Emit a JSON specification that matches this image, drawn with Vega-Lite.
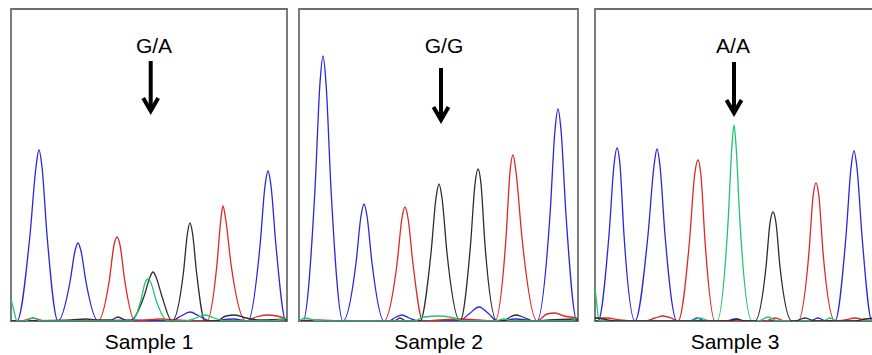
{
  "$schema": "https://vega.github.io/schema/vega-lite/v6.json",
  "padding": {"left": 10, "top": 8, "right": 0, "bottom": 0},
  "background": "#ffffff",
  "config": {"view": {"stroke": "#6e6e6e", "strokeWidth": 1.8}},
  "datasets": {
    "tr": [
      {"p":1,"c":"b","x":0,"y":0},{"p":1,"c":"b","x":6,"y":0},{"p":1,"c":"b","x":19,"y":86},{"p":1,"c":"b","x":25,"y":154},{"p":1,"c":"b","x":28,"y":171},{"p":1,"c":"b","x":31,"y":154},{"p":1,"c":"b","x":36,"y":86},{"p":1,"c":"b","x":47,"y":0},{"p":1,"c":"b","x":59,"y":39},{"p":1,"c":"b","x":64,"y":70},{"p":1,"c":"b","x":67,"y":78},{"p":1,"c":"b","x":70,"y":70},{"p":1,"c":"b","x":75,"y":39},{"p":1,"c":"b","x":87,"y":0},{"p":1,"c":"b","x":120,"y":1},{"p":1,"c":"b","x":160,"y":0},{"p":1,"c":"b","x":170,"y":5},{"p":1,"c":"b","x":179,"y":9},{"p":1,"c":"b","x":188,"y":5},{"p":1,"c":"b","x":200,"y":0},{"p":1,"c":"b","x":222,"y":2},{"p":1,"c":"b","x":237,"y":0},{"p":1,"c":"b","x":249,"y":75},{"p":1,"c":"b","x":254,"y":135},{"p":1,"c":"b","x":257,"y":150},{"p":1,"c":"b","x":260,"y":135},{"p":1,"c":"b","x":265,"y":75},{"p":1,"c":"b","x":275,"y":0},{"p":1,"c":"b","x":276,"y":0},

      {"p":1,"c":"r","x":0,"y":0},{"p":1,"c":"r","x":10,"y":0},{"p":1,"c":"r","x":22,"y":3},{"p":1,"c":"r","x":34,"y":0},{"p":1,"c":"r","x":87,"y":0},{"p":1,"c":"r","x":98.5,"y":42},{"p":1,"c":"r","x":103,"y":76},{"p":1,"c":"r","x":106,"y":84},{"p":1,"c":"r","x":109,"y":76},{"p":1,"c":"r","x":113.5,"y":42},{"p":1,"c":"r","x":124,"y":0},{"p":1,"c":"r","x":135,"y":1},{"p":1,"c":"r","x":150,"y":2},{"p":1,"c":"r","x":165,"y":1},{"p":1,"c":"r","x":196,"y":0},{"p":1,"c":"r","x":206,"y":57},{"p":1,"c":"r","x":210,"y":103},{"p":1,"c":"r","x":212,"y":115},{"p":1,"c":"r","x":214.5,"y":103},{"p":1,"c":"r","x":220,"y":57},{"p":1,"c":"r","x":235,"y":0},{"p":1,"c":"r","x":245,"y":4},{"p":1,"c":"r","x":256,"y":6},{"p":1,"c":"r","x":266,"y":5},{"p":1,"c":"r","x":276,"y":2},

      {"p":1,"c":"k","x":0,"y":0},{"p":1,"c":"k","x":60,"y":1},{"p":1,"c":"k","x":75,"y":2},{"p":1,"c":"k","x":85,"y":1},{"p":1,"c":"k","x":100,"y":1},{"p":1,"c":"k","x":107,"y":4},{"p":1,"c":"k","x":114,"y":1},{"p":1,"c":"k","x":119,"y":0},{"p":1,"c":"k","x":133,"y":24.5},{"p":1,"c":"k","x":139,"y":44},{"p":1,"c":"k","x":142,"y":49},{"p":1,"c":"k","x":145,"y":44},{"p":1,"c":"k","x":151,"y":24.5},{"p":1,"c":"k","x":161,"y":0},{"p":1,"c":"k","x":172.5,"y":49},{"p":1,"c":"k","x":176.5,"y":88},{"p":1,"c":"k","x":179,"y":98},{"p":1,"c":"k","x":181.5,"y":88},{"p":1,"c":"k","x":185.5,"y":49},{"p":1,"c":"k","x":194,"y":0},{"p":1,"c":"k","x":205,"y":0},{"p":1,"c":"k","x":215,"y":5},{"p":1,"c":"k","x":224,"y":6},{"p":1,"c":"k","x":235,"y":3},{"p":1,"c":"k","x":250,"y":1},{"p":1,"c":"k","x":276,"y":2},

      {"p":1,"c":"g","x":0,"y":22},{"p":1,"c":"g","x":3,"y":10},{"p":1,"c":"g","x":6,"y":0},{"p":1,"c":"g","x":14,"y":0},{"p":1,"c":"g","x":22,"y":3},{"p":1,"c":"g","x":30,"y":0},{"p":1,"c":"g","x":121,"y":0},{"p":1,"c":"g","x":130,"y":21},{"p":1,"c":"g","x":134,"y":38},{"p":1,"c":"g","x":137,"y":42},{"p":1,"c":"g","x":140,"y":38},{"p":1,"c":"g","x":145,"y":21},{"p":1,"c":"g","x":157,"y":0},{"p":1,"c":"g","x":175,"y":0},{"p":1,"c":"g","x":185,"y":3},{"p":1,"c":"g","x":194,"y":6},{"p":1,"c":"g","x":203,"y":3},{"p":1,"c":"g","x":215,"y":0},{"p":1,"c":"g","x":260,"y":0},{"p":1,"c":"g","x":276,"y":3},

      {"p":2,"c":"b","x":0,"y":0},{"p":2,"c":"b","x":4,"y":0},{"p":2,"c":"b","x":16,"y":132},{"p":2,"c":"b","x":21,"y":238},{"p":2,"c":"b","x":24,"y":265},{"p":2,"c":"b","x":27,"y":238},{"p":2,"c":"b","x":32,"y":132},{"p":2,"c":"b","x":44,"y":0},{"p":2,"c":"b","x":57,"y":58},{"p":2,"c":"b","x":62,"y":105},{"p":2,"c":"b","x":65,"y":117},{"p":2,"c":"b","x":68,"y":105},{"p":2,"c":"b","x":73,"y":58},{"p":2,"c":"b","x":85,"y":0},{"p":2,"c":"b","x":90,"y":0},{"p":2,"c":"b","x":97,"y":4},{"p":2,"c":"b","x":103,"y":6},{"p":2,"c":"b","x":110,"y":3},{"p":2,"c":"b","x":120,"y":0},{"p":2,"c":"b","x":160,"y":0},{"p":2,"c":"b","x":170,"y":7},{"p":2,"c":"b","x":180,"y":14},{"p":2,"c":"b","x":190,"y":7},{"p":2,"c":"b","x":198,"y":0},{"p":2,"c":"b","x":216,"y":2},{"p":2,"c":"b","x":238,"y":0},{"p":2,"c":"b","x":251,"y":106},{"p":2,"c":"b","x":256,"y":191},{"p":2,"c":"b","x":259,"y":212},{"p":2,"c":"b","x":262,"y":191},{"p":2,"c":"b","x":267,"y":106},{"p":2,"c":"b","x":278,"y":0},{"p":2,"c":"b","x":279,"y":0},

      {"p":2,"c":"r","x":0,"y":0},{"p":2,"c":"r","x":20,"y":1},{"p":2,"c":"r","x":40,"y":0},{"p":2,"c":"r","x":85,"y":0},{"p":2,"c":"r","x":98,"y":57},{"p":2,"c":"r","x":103,"y":103},{"p":2,"c":"r","x":106,"y":114},{"p":2,"c":"r","x":109,"y":103},{"p":2,"c":"r","x":114,"y":57},{"p":2,"c":"r","x":124,"y":0},{"p":2,"c":"r","x":140,"y":1},{"p":2,"c":"r","x":160,"y":2},{"p":2,"c":"r","x":180,"y":1},{"p":2,"c":"r","x":196,"y":0},{"p":2,"c":"r","x":207,"y":83},{"p":2,"c":"r","x":211,"y":149},{"p":2,"c":"r","x":214,"y":166},{"p":2,"c":"r","x":217,"y":149},{"p":2,"c":"r","x":223,"y":83},{"p":2,"c":"r","x":238,"y":0},{"p":2,"c":"r","x":248,"y":7},{"p":2,"c":"r","x":256,"y":8},{"p":2,"c":"r","x":265,"y":5},{"p":2,"c":"r","x":279,"y":3},

      {"p":2,"c":"k","x":0,"y":0},{"p":2,"c":"k","x":95,"y":0},{"p":2,"c":"k","x":101,"y":3},{"p":2,"c":"k","x":107,"y":0},{"p":2,"c":"k","x":121,"y":0},{"p":2,"c":"k","x":132,"y":68},{"p":2,"c":"k","x":137,"y":123},{"p":2,"c":"k","x":140,"y":137},{"p":2,"c":"k","x":143,"y":123},{"p":2,"c":"k","x":148,"y":68},{"p":2,"c":"k","x":161,"y":0},{"p":2,"c":"k","x":171.5,"y":76},{"p":2,"c":"k","x":176,"y":137},{"p":2,"c":"k","x":179,"y":152},{"p":2,"c":"k","x":182,"y":137},{"p":2,"c":"k","x":186,"y":76},{"p":2,"c":"k","x":198,"y":0},{"p":2,"c":"k","x":205,"y":0},{"p":2,"c":"k","x":211,"y":4},{"p":2,"c":"k","x":217,"y":6},{"p":2,"c":"k","x":224,"y":4},{"p":2,"c":"k","x":235,"y":0},{"p":2,"c":"k","x":250,"y":1},{"p":2,"c":"k","x":279,"y":2},

      {"p":2,"c":"g","x":0,"y":0},{"p":2,"c":"g","x":6,"y":3},{"p":2,"c":"g","x":15,"y":1},{"p":2,"c":"g","x":25,"y":0},{"p":2,"c":"g","x":115,"y":0},{"p":2,"c":"g","x":125,"y":4},{"p":2,"c":"g","x":141,"y":5},{"p":2,"c":"g","x":155,"y":3},{"p":2,"c":"g","x":165,"y":0},{"p":2,"c":"g","x":195,"y":0},{"p":2,"c":"g","x":205,"y":2},{"p":2,"c":"g","x":215,"y":0},{"p":2,"c":"g","x":270,"y":0},{"p":2,"c":"g","x":279,"y":4},

      {"p":3,"c":"b","x":0,"y":0},{"p":3,"c":"b","x":3,"y":0},{"p":3,"c":"b","x":14,"y":86},{"p":3,"c":"b","x":19,"y":156},{"p":3,"c":"b","x":22,"y":173},{"p":3,"c":"b","x":25,"y":156},{"p":3,"c":"b","x":29,"y":86},{"p":3,"c":"b","x":40,"y":0},{"p":3,"c":"b","x":53,"y":86},{"p":3,"c":"b","x":59,"y":155},{"p":3,"c":"b","x":62,"y":172},{"p":3,"c":"b","x":65,"y":155},{"p":3,"c":"b","x":70,"y":86},{"p":3,"c":"b","x":82,"y":0},{"p":3,"c":"b","x":95,"y":0},{"p":3,"c":"b","x":102,"y":3},{"p":3,"c":"b","x":110,"y":0},{"p":3,"c":"b","x":130,"y":0},{"p":3,"c":"b","x":140,"y":2},{"p":3,"c":"b","x":150,"y":0},{"p":3,"c":"b","x":215,"y":0},{"p":3,"c":"b","x":223,"y":3},{"p":3,"c":"b","x":231,"y":0},{"p":3,"c":"b","x":240,"y":0},{"p":3,"c":"b","x":251,"y":85},{"p":3,"c":"b","x":256,"y":153},{"p":3,"c":"b","x":259,"y":170},{"p":3,"c":"b","x":262,"y":153},{"p":3,"c":"b","x":267,"y":85},{"p":3,"c":"b","x":277,"y":0},{"p":3,"c":"b","x":280,"y":0},

      {"p":3,"c":"r","x":0,"y":3},{"p":3,"c":"r","x":12,"y":3},{"p":3,"c":"r","x":25,"y":1},{"p":3,"c":"r","x":40,"y":0},{"p":3,"c":"r","x":50,"y":0},{"p":3,"c":"r","x":60,"y":3},{"p":3,"c":"r","x":68,"y":5},{"p":3,"c":"r","x":76,"y":3},{"p":3,"c":"r","x":83,"y":0},{"p":3,"c":"r","x":94.5,"y":80},{"p":3,"c":"r","x":99.5,"y":145},{"p":3,"c":"r","x":103,"y":161},{"p":3,"c":"r","x":106,"y":145},{"p":3,"c":"r","x":110,"y":80},{"p":3,"c":"r","x":120,"y":0},{"p":3,"c":"r","x":170,"y":0},{"p":3,"c":"r","x":180,"y":3},{"p":3,"c":"r","x":190,"y":0},{"p":3,"c":"r","x":203,"y":0},{"p":3,"c":"r","x":214,"y":69},{"p":3,"c":"r","x":218,"y":124},{"p":3,"c":"r","x":221,"y":138},{"p":3,"c":"r","x":224,"y":124},{"p":3,"c":"r","x":228,"y":69},{"p":3,"c":"r","x":240,"y":0},{"p":3,"c":"r","x":250,"y":1},{"p":3,"c":"r","x":260,"y":3},{"p":3,"c":"r","x":270,"y":1},{"p":3,"c":"r","x":280,"y":0},

      {"p":3,"c":"g","x":0,"y":34},{"p":3,"c":"g","x":2,"y":15},{"p":3,"c":"g","x":4,"y":0},{"p":3,"c":"g","x":95,"y":0},{"p":3,"c":"g","x":105,"y":3},{"p":3,"c":"g","x":115,"y":0},{"p":3,"c":"g","x":122,"y":0},{"p":3,"c":"g","x":133,"y":98},{"p":3,"c":"g","x":137,"y":176},{"p":3,"c":"g","x":139,"y":196},{"p":3,"c":"g","x":141,"y":176},{"p":3,"c":"g","x":145,"y":98},{"p":3,"c":"g","x":157,"y":0},{"p":3,"c":"g","x":163,"y":0},{"p":3,"c":"g","x":173,"y":4},{"p":3,"c":"g","x":183,"y":0},{"p":3,"c":"g","x":228,"y":0},{"p":3,"c":"g","x":235,"y":3},{"p":3,"c":"g","x":242,"y":0},{"p":3,"c":"g","x":270,"y":0},{"p":3,"c":"g","x":280,"y":2},

      {"p":3,"c":"k","x":0,"y":3},{"p":3,"c":"k","x":8,"y":2},{"p":3,"c":"k","x":20,"y":0},{"p":3,"c":"k","x":135,"y":0},{"p":3,"c":"k","x":142,"y":2},{"p":3,"c":"k","x":150,"y":0},{"p":3,"c":"k","x":160,"y":0},{"p":3,"c":"k","x":171,"y":54},{"p":3,"c":"k","x":175,"y":98},{"p":3,"c":"k","x":178,"y":109},{"p":3,"c":"k","x":181,"y":98},{"p":3,"c":"k","x":185,"y":54},{"p":3,"c":"k","x":197,"y":0},{"p":3,"c":"k","x":200,"y":0},{"p":3,"c":"k","x":210,"y":3},{"p":3,"c":"k","x":220,"y":0},{"p":3,"c":"k","x":260,"y":0},{"p":3,"c":"k","x":270,"y":2},{"p":3,"c":"k","x":280,"y":3}
    ],
    "lab": [
      {"p":1,"t":"G/A","x":143,"y":268.5},
      {"p":2,"t":"G/G","x":145,"y":268.5},
      {"p":3,"t":"A/A","x":138,"y":268.5}
    ],
    "shaft": [
      {"p":1,"x":139.7,"y":260,"y2":212},
      {"p":2,"x":142,"y":253,"y2":203},
      {"p":3,"x":139,"y":259,"y2":210}
    ],
    "head": [
      {"p":1,"o":1,"x":132.2,"y":223},{"p":1,"o":2,"x":139.7,"y":210},{"p":1,"o":3,"x":147.2,"y":223},
      {"p":2,"o":1,"x":134.5,"y":214},{"p":2,"o":2,"x":142,"y":201},{"p":2,"o":3,"x":149.5,"y":214},
      {"p":3,"o":1,"x":131.5,"y":221},{"p":3,"o":2,"x":139,"y":208},{"p":3,"o":3,"x":146.5,"y":221}
    ]
  },
  "spacing": 15,
  "hconcat": [
    {
      "spacing": 10,
      "hconcat": [
        {
          "width": 276, "height": 312,
          "title": {"text": "Sample 1", "orient": "bottom", "offset": 11, "fontSize": 21, "font": "Liberation Sans", "fontWeight": "normal", "color": "#000000", "anchor": "middle", "baseline": "top"},
          "layer": [
            {"data": {"name": "tr"}, "transform": [{"filter": "datum.p == 1"}],
             "mark": {"type": "line", "interpolate": "monotone", "strokeWidth": 1.3, "strokeJoin": "round", "clip": true},
             "encoding": {
               "x": {"field": "x", "type": "quantitative", "scale": {"domain": [0, 276], "nice": false}, "axis": null},
               "y": {"field": "y", "type": "quantitative", "scale": {"domain": [0, 312], "nice": false}, "axis": null},
               "color": {"field": "c", "type": "nominal", "scale": {"domain": ["k", "r", "g", "b"], "range": ["#2e2e2e", "#e02626", "#22c46e", "#2828dc"]}, "legend": null}}},
            {"data": {"name": "lab"}, "transform": [{"filter": "datum.p == 1"}],
             "mark": {"type": "text", "fontSize": 21, "font": "Liberation Sans", "baseline": "alphabetic", "align": "center", "color": "#000000"},
             "encoding": {
               "x": {"field": "x", "type": "quantitative", "scale": {"domain": [0, 276], "nice": false}, "axis": null},
               "y": {"field": "y", "type": "quantitative", "scale": {"domain": [0, 312], "nice": false}, "axis": null},
               "text": {"field": "t"}}},
            {"data": {"name": "shaft"}, "transform": [{"filter": "datum.p == 1"}],
             "mark": {"type": "rule", "strokeWidth": 4, "color": "#000000"},
             "encoding": {
               "x": {"field": "x", "type": "quantitative", "scale": {"domain": [0, 276], "nice": false}, "axis": null},
               "y": {"field": "y", "type": "quantitative", "scale": {"domain": [0, 312], "nice": false}, "axis": null},
               "y2": {"field": "y2"}}},
            {"data": {"name": "head"}, "transform": [{"filter": "datum.p == 1"}],
             "mark": {"type": "line", "strokeWidth": 4, "color": "#000000", "strokeJoin": "miter", "strokeCap": "butt"},
             "encoding": {
               "x": {"field": "x", "type": "quantitative", "scale": {"domain": [0, 276], "nice": false}, "axis": null},
               "y": {"field": "y", "type": "quantitative", "scale": {"domain": [0, 312], "nice": false}, "axis": null},
               "order": {"field": "o"}}}
          ]
        },
        {
          "width": 279, "height": 312,
          "title": {"text": "Sample 2", "orient": "bottom", "offset": 11, "fontSize": 21, "font": "Liberation Sans", "fontWeight": "normal", "color": "#000000", "anchor": "middle", "baseline": "top"},
          "layer": [
            {"data": {"name": "tr"}, "transform": [{"filter": "datum.p == 2"}],
             "mark": {"type": "line", "interpolate": "monotone", "strokeWidth": 1.3, "strokeJoin": "round", "clip": true},
             "encoding": {
               "x": {"field": "x", "type": "quantitative", "scale": {"domain": [0, 279], "nice": false}, "axis": null},
               "y": {"field": "y", "type": "quantitative", "scale": {"domain": [0, 312], "nice": false}, "axis": null},
               "color": {"field": "c", "type": "nominal", "scale": {"domain": ["k", "r", "g", "b"], "range": ["#2e2e2e", "#e02626", "#22c46e", "#2828dc"]}, "legend": null}}},
            {"data": {"name": "lab"}, "transform": [{"filter": "datum.p == 2"}],
             "mark": {"type": "text", "fontSize": 21, "font": "Liberation Sans", "baseline": "alphabetic", "align": "center", "color": "#000000"},
             "encoding": {
               "x": {"field": "x", "type": "quantitative", "scale": {"domain": [0, 279], "nice": false}, "axis": null},
               "y": {"field": "y", "type": "quantitative", "scale": {"domain": [0, 312], "nice": false}, "axis": null},
               "text": {"field": "t"}}},
            {"data": {"name": "shaft"}, "transform": [{"filter": "datum.p == 2"}],
             "mark": {"type": "rule", "strokeWidth": 4, "color": "#000000"},
             "encoding": {
               "x": {"field": "x", "type": "quantitative", "scale": {"domain": [0, 279], "nice": false}, "axis": null},
               "y": {"field": "y", "type": "quantitative", "scale": {"domain": [0, 312], "nice": false}, "axis": null},
               "y2": {"field": "y2"}}},
            {"data": {"name": "head"}, "transform": [{"filter": "datum.p == 2"}],
             "mark": {"type": "line", "strokeWidth": 4, "color": "#000000", "strokeJoin": "miter", "strokeCap": "butt"},
             "encoding": {
               "x": {"field": "x", "type": "quantitative", "scale": {"domain": [0, 279], "nice": false}, "axis": null},
               "y": {"field": "y", "type": "quantitative", "scale": {"domain": [0, 312], "nice": false}, "axis": null},
               "order": {"field": "o"}}}
          ]
        }
      ]
    },
    {
      "width": 280, "height": 312,
      "title": {"text": "Sample 3", "orient": "bottom", "offset": 11, "fontSize": 21, "font": "Liberation Sans", "fontWeight": "normal", "color": "#000000", "anchor": "middle", "baseline": "top"},
      "layer": [
        {"data": {"name": "tr"}, "transform": [{"filter": "datum.p == 3"}],
         "mark": {"type": "line", "interpolate": "monotone", "strokeWidth": 1.3, "strokeJoin": "round", "clip": true},
         "encoding": {
           "x": {"field": "x", "type": "quantitative", "scale": {"domain": [0, 280], "nice": false}, "axis": null},
           "y": {"field": "y", "type": "quantitative", "scale": {"domain": [0, 312], "nice": false}, "axis": null},
           "color": {"field": "c", "type": "nominal", "scale": {"domain": ["k", "r", "g", "b"], "range": ["#2e2e2e", "#e02626", "#22c46e", "#2828dc"]}, "legend": null}}},
        {"data": {"name": "lab"}, "transform": [{"filter": "datum.p == 3"}],
         "mark": {"type": "text", "fontSize": 21, "font": "Liberation Sans", "baseline": "alphabetic", "align": "center", "color": "#000000"},
         "encoding": {
           "x": {"field": "x", "type": "quantitative", "scale": {"domain": [0, 280], "nice": false}, "axis": null},
           "y": {"field": "y", "type": "quantitative", "scale": {"domain": [0, 312], "nice": false}, "axis": null},
           "text": {"field": "t"}}},
        {"data": {"name": "shaft"}, "transform": [{"filter": "datum.p == 3"}],
         "mark": {"type": "rule", "strokeWidth": 4, "color": "#000000"},
         "encoding": {
           "x": {"field": "x", "type": "quantitative", "scale": {"domain": [0, 280], "nice": false}, "axis": null},
           "y": {"field": "y", "type": "quantitative", "scale": {"domain": [0, 312], "nice": false}, "axis": null},
           "y2": {"field": "y2"}}},
        {"data": {"name": "head"}, "transform": [{"filter": "datum.p == 3"}],
         "mark": {"type": "line", "strokeWidth": 4, "color": "#000000", "strokeJoin": "miter", "strokeCap": "butt"},
         "encoding": {
           "x": {"field": "x", "type": "quantitative", "scale": {"domain": [0, 280], "nice": false}, "axis": null},
           "y": {"field": "y", "type": "quantitative", "scale": {"domain": [0, 312], "nice": false}, "axis": null},
           "order": {"field": "o"}}}
      ]
    }
  ]
}
